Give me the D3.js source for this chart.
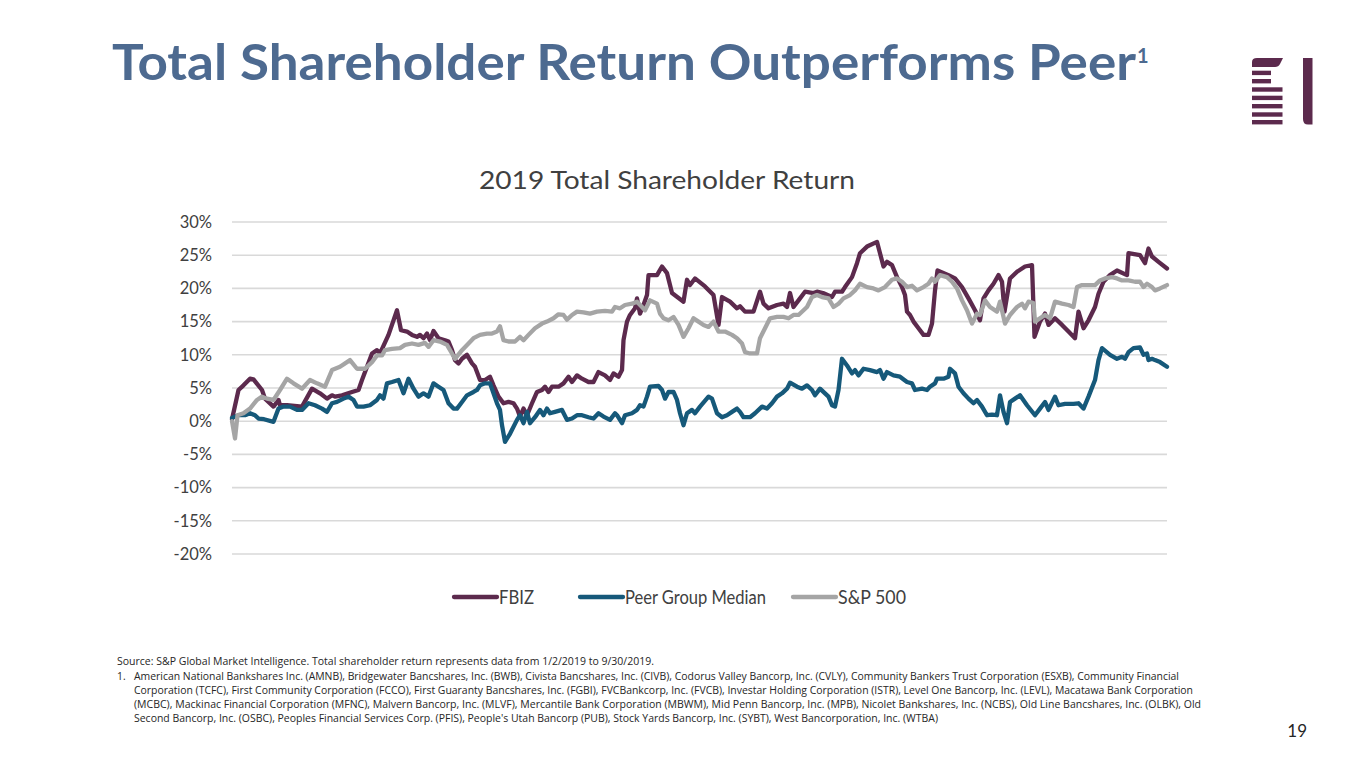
<!DOCTYPE html>
<html><head><meta charset="utf-8">
<script src="https://cdn.jsdelivr.net/npm/d3@7"></script>
<style>body{margin:0;background:#fff;} svg{display:block;}</style>
</head><body>
<svg id="c" width="1365" height="768"></svg>
<script>
// ---------- DATA ----------
const seriesNames = ["FBIZ", "Peer Group Median", "S&P 500"];
const yTicks = [-20, -15, -10, -5, 0, 5, 10, 15, 20, 25, 30];
const dayCount = 187; // trading days 1/2/2019 - 9/30/2019 (index)

// [trading-day index, total return %]
const fbiz = [
[0,0.3],[1.3,4.7],[2.3,5.4],[3.6,6.4],[4.3,6.3],[6,4.7],[6.6,3.4],[8.3,2.2],[9.3,3.2],[9.6,2.4],[11,2.4],[14,2.2],[16,4.9],[17.6,4.2],[19,3.4],[20,3.9],[20.6,3.7],[22,3.9],[24,4.4],[25.3,4.7],[26,6.2],[27,8.2],[28,10.2],[29,10.7],[29.6,10.2],[31.3,13.0],[33,16.7],[33.8,13.7],[35,13.5],[36,13.0],[37,12.7],[37.6,13.0],[38.3,12.5],[39,13.2],[39.6,12.2],[40.3,13.6],[41.3,12.5],[42.6,12.2],[43.3,12.0],[44,10.7],[44.6,9.2],[45.3,8.7],[46,9.4],[47,10.0],[48,8.7],[48.6,8.2],[49.6,6.2],[50.6,6.2],[51.6,6.7],[52.3,5.4],[53.3,3.7],[54.3,2.7],[55.3,2.9],[56.3,2.7],[57,1.9],[57.6,0.7],[58.3,1.9],[59,0.9],[60,2.7],[61,4.4],[62,4.7],[62.6,5.2],[63.3,4.4],[64,5.2],[65.3,5.2],[66.3,5.7],[67.3,6.7],[68,5.9],[69,6.9],[70,6.4],[71.3,5.9],[72.3,5.9],[73.3,7.4],[74.6,6.9],[75.6,6.2],[76.3,7.2],[77.3,6.7],[78,7.7],[78.3,12.2],[79,15.0],[79.6,16.0],[80.6,17.0],[81,18.5],[81.6,16.2],[82.3,17.5],[83,19.0],[83.3,22.0],[85,22.0],[86,23.3],[87,22.3],[88,19.3],[90.3,18.0],[91,21.3],[91.6,20.5],[92.6,21.5],[94.6,20.3],[96.3,19.0],[97.3,14.5],[98,18.7],[99.6,18.0],[101,17.0],[101.6,17.3],[102.6,16.5],[104.3,16.5],[105.6,19.5],[106.3,17.7],[107.3,17.0],[109,17.5],[110.3,17.7],[111,17.2],[111.6,19.3],[112.3,17.2],[113.3,18.2],[114.6,19.5],[116.3,19.3],[117,19.5],[118.2,19.3],[120,18.7],[120.6,19.5],[122,19.5],[122.6,20.2],[124,21.7],[125,23.8],[125.6,25.3],[127,26.3],[129,27.0],[129.6,25.3],[130.3,23.3],[131,24.0],[132,23.5],[133,21.7],[134,20.2],[134.6,19.0],[135,16.5],[135.6,16.0],[136.3,15.0],[137.3,14.0],[138.3,13.0],[139.3,13.0],[140,14.7],[140.6,19.7],[141.1,22.7],[143.3,22.0],[144.6,21.5],[146,20.2],[147.3,18.5],[148.6,16.7],[149.6,15.2],[150.3,18.5],[151.3,19.7],[152.3,20.7],[153.3,22.0],[154,21.0],[154.5,16.5],[155.6,21.5],[157,22.5],[158.6,23.3],[160,23.5],[160.5,12.7],[161.6,15.0],[162.6,16.2],[163.3,14.5],[164.6,15.5],[166,14.5],[167.3,13.5],[168.6,12.5],[169.3,16.5],[170.3,14.0],[171.3,15.2],[172.6,17.2],[173.3,19.2],[174.3,21.0],[175.6,22.0],[177,22.7],[179,22.0],[179.3,25.3],[181.6,25.0],[182.6,23.8],[183.3,26.0],[184,24.8],[185.3,24.0],[187,23.0]
];

const peer = [
[0,0.5],[1.3,0.9],[2.6,0.9],[3.6,1.2],[4.6,0.9],[5.3,0.4],[6.4,0.3],[8.3,-0.1],[9.3,1.9],[10.3,2.2],[11.6,2.2],[13,1.7],[14,1.7],[15.3,2.7],[16.6,2.4],[18,1.9],[19,1.4],[20,2.7],[21,2.9],[22.3,3.4],[23.3,3.7],[24.3,3.2],[25,2.2],[26.3,2.2],[27.6,2.4],[29,3.2],[29.6,3.9],[30.3,3.4],[31,5.7],[32,5.9],[33.3,6.2],[34.3,4.2],[35.3,6.4],[36.3,4.9],[37.3,3.7],[38.3,4.2],[39.3,3.7],[40.3,5.7],[41.3,5.2],[42.3,4.7],[43.3,2.7],[44.3,1.9],[45,1.9],[46,2.9],[47,3.9],[48.3,4.4],[49,4.7],[49.6,5.4],[50.6,5.7],[51.6,5.7],[52.3,4.2],[53,2.7],[53.6,1.7],[54,-0.6],[54.6,-3.1],[55.6,-1.9],[57,0.2],[57.6,0.9],[58.3,-0.3],[59,1.4],[59.6,-0.3],[60.6,0.6],[61.6,1.7],[62.3,0.9],[63,1.9],[63.6,1.2],[64.6,1.4],[66,1.7],[67,0.2],[68,0.4],[69,0.9],[70,0.9],[71.3,0.6],[72.3,0.4],[73.3,1.2],[74.3,0.7],[75.6,0.2],[76.6,1.2],[77,0.9],[78,-0.3],[78.6,0.9],[80,1.2],[81,1.7],[81.6,2.4],[82.3,2.2],[83,3.7],[83.6,5.2],[85.3,5.3],[86,4.7],[86.6,3.4],[87.3,4.4],[88.3,4.4],[89,3.2],[89.6,1.2],[90.3,-0.6],[91,1.2],[92,1.7],[92.6,1.2],[93.6,2.2],[95.3,3.7],[96,3.4],[97,1.2],[98,0.6],[99,0.9],[100,1.4],[101,1.9],[101.6,1.4],[102.3,0.6],[103.6,0.6],[104.6,1.2],[106,2.2],[107,1.9],[108,2.7],[109,3.7],[110,4.2],[111,4.9],[111.6,5.8],[113,5.2],[114,4.9],[115,5.4],[116,4.7],[116.6,3.9],[117.6,4.9],[118.6,4.2],[119.3,3.7],[120,2.4],[120.6,2.2],[121.3,4.7],[122,9.4],[123,8.4],[124,7.2],[124.6,7.7],[125.3,6.9],[126.3,7.9],[127.6,7.7],[129,7.4],[129.6,7.7],[130.3,6.4],[131,7.4],[132.3,6.9],[133.6,6.7],[135,5.9],[136,5.7],[136.6,4.7],[138,4.9],[139,4.7],[139.6,5.2],[140.6,5.7],[141,6.4],[142.3,6.4],[143.3,6.7],[143.6,7.9],[144.6,7.2],[145.3,5.2],[146.3,4.2],[147.3,3.4],[148.3,2.7],[149,3.2],[150,2.2],[151,0.9],[152,1.0],[153,0.9],[153.6,3.9],[154.3,1.4],[155,-0.3],[155.6,2.9],[156.6,3.4],[157.6,3.9],[159,2.4],[160.6,0.9],[161.6,1.9],[162.6,2.9],[163.3,1.7],[164.6,3.7],[165.3,2.4],[166.6,2.6],[168.3,2.6],[169.3,2.7],[170.3,1.9],[171.3,3.7],[172.6,6.2],[173.3,9.2],[174,11.0],[175.6,10.0],[177,9.4],[178,9.7],[178.6,9.4],[179.3,10.4],[180.3,11.0],[181.6,11.1],[182.3,10.0],[183,10.2],[183.3,9.2],[184,9.4],[184.6,9.2],[185.6,8.9],[187,8.2]
];

const sp500 = [
[0,0.0],[0.6,-2.6],[1.1,0.9],[2.3,1.2],[3.6,1.9],[5,3.2],[6,3.7],[7,3.4],[8.3,3.2],[9.6,4.7],[11,6.4],[12.3,5.7],[14,4.9],[15.6,6.2],[17,5.7],[18.6,5.2],[20,7.7],[21.6,8.2],[23.6,9.2],[25,7.9],[26.6,7.9],[28,8.9],[29,9.9],[30,9.9],[30.6,10.7],[32,10.9],[33.6,11.0],[34.6,11.5],[36,11.7],[37.3,11.5],[38.6,11.8],[39.3,11.2],[40.3,12.2],[41.6,12.0],[43,11.5],[44,10.2],[44.6,9.4],[46,10.7],[47.3,11.7],[48.3,12.5],[49.6,13.0],[51,13.2],[52,13.2],[53,13.5],[53.6,14.3],[54.3,12.2],[55.3,12.0],[56.6,12.0],[57.6,12.7],[58.3,12.2],[59.3,13.0],[60.6,14.0],[62,14.7],[63,15.0],[64.3,15.5],[65.3,16.1],[66.3,16.0],[67,15.3],[68,16.0],[69,16.5],[70.3,16.4],[71.6,16.2],[73,16.5],[74.6,16.6],[76,16.5],[76.6,17.2],[77.6,17.0],[78.6,17.5],[80,17.7],[81,18.0],[82,17.2],[82.6,16.7],[83.6,18.2],[85,17.7],[85.6,16.2],[86.3,15.5],[87.3,15.2],[88.3,15.7],[89.3,14.5],[90.3,12.7],[91.3,14.0],[92.3,15.5],[93.3,15.0],[94.3,14.5],[95.3,14.2],[96.3,15.0],[97.3,13.5],[98.6,13.5],[100,13.0],[101,12.5],[102,11.7],[102.6,10.4],[103.6,10.2],[105,10.2],[105.6,12.5],[106.6,14.0],[107.6,15.5],[109,15.7],[110.3,15.7],[111.3,15.5],[112.3,16.0],[113.3,16.0],[115,17.2],[116,18.7],[117,19.0],[118,18.7],[119.3,18.5],[120.3,17.2],[121.3,17.7],[122.3,18.5],[123.6,19.0],[124.6,19.7],[125.6,20.7],[127,20.2],[128.3,20.0],[129.3,19.7],[130.6,20.2],[132,21.3],[133,21.5],[134,21.0],[135,20.2],[136,20.4],[137,19.7],[138.3,20.2],[139.3,20.7],[140,21.5],[140.6,21.0],[141.6,22.0],[143,21.7],[144,21.0],[145,20.0],[146,18.2],[147,16.7],[148,14.7],[149,16.2],[149.6,16.0],[150.6,18.2],[151.6,17.2],[153,16.5],[153.6,18.0],[154.6,14.7],[155.6,16.0],[157,17.2],[158,17.7],[158.6,17.0],[159.3,18.0],[160.3,17.8],[160.6,15.0],[161.6,15.5],[162.6,16.0],[163.6,15.5],[164.6,18.0],[166,17.7],[167.3,17.5],[168.3,17.2],[169,20.2],[170,20.5],[171.3,20.5],[172.6,20.5],[173.6,21.2],[174.6,21.5],[176,21.7],[177,21.5],[178,21.2],[179.3,21.2],[180.6,21.0],[181.6,21.0],[182.3,20.2],[183,20.7],[184,20.2],[184.6,19.7],[185.6,20.0],[187,20.5]
];

const footnotes = [
  "Source: S&P Global Market Intelligence.  Total shareholder return represents data from 1/2/2019 to 9/30/2019.",
  "American National Bankshares Inc. (AMNB), Bridgewater Bancshares, Inc. (BWB), Civista Bancshares, Inc. (CIVB), Codorus Valley Bancorp, Inc. (CVLY), Community Bankers Trust Corporation (ESXB), Community Financial",
  "Corporation (TCFC), First Community Corporation (FCCO), First Guaranty Bancshares, Inc. (FGBI), FVCBankcorp, Inc. (FVCB), Investar Holding Corporation (ISTR), Level One Bancorp, Inc. (LEVL), Macatawa Bank Corporation",
  "(MCBC), Mackinac Financial Corporation (MFNC), Malvern Bancorp, Inc. (MLVF), Mercantile Bank Corporation (MBWM), Mid Penn Bancorp, Inc. (MPB), Nicolet Bankshares, Inc. (NCBS), Old Line Bancshares, Inc. (OLBK), Old",
  "Second Bancorp, Inc. (OSBC), Peoples Financial Services Corp. (PFIS), People's Utah Bancorp (PUB), Stock Yards Bancorp, Inc. (SYBT), West Bancorporation, Inc. (WTBA)"
];

// ---------- STYLE / LAYOUT ----------
const colors = ["#5C2A4D", "#16597A", "#A5A5A5"];
const FONT = "Lato, 'Open Sans', sans-serif";
const svg = d3.select("#c");

// Title
svg.append("text").attr("x", 112).attr("y", 80)
  .attr("font-family", FONT).attr("font-weight", 700).attr("font-size", 50)
  .attr("fill", "#4D6A90")
  .attr("textLength", 1024).attr("lengthAdjust", "spacingAndGlyphs")
  .text("Total Shareholder Return Outperforms Peer");
svg.append("text").attr("x", 1137).attr("y", 63)
  .attr("font-family", FONT).attr("font-weight", 700).attr("font-size", 20)
  .attr("fill", "#4D6A90").text("1");

// Logo
const logo = svg.append("g").attr("fill", "#5C2A4D");
logo.append("path").attr("d", "M1252,67 L1252,62 Q1252,58 1257,58 L1283,58 L1280,64 Q1278.5,67 1275,67 Z");
[[70.7, 19], [79, 19], [87.3, 30.5], [95.7, 30.5], [104, 30.5], [112.3, 30.5], [120, 30.5]].forEach(([y, w]) => {
  logo.append("rect").attr("x", 1252).attr("y", y).attr("width", w).attr("height", 4.4);
});
logo.append("path").attr("d", "M1303,58 L1312.5,58 L1312.5,124.5 L1308,124.5 Q1303,124.5 1303,119 Z");

// Chart title
svg.append("text").attr("x", 667).attr("y", 189).attr("text-anchor", "middle")
  .attr("font-family", FONT).attr("font-size", 25).attr("fill", "#404040")
  .attr("textLength", 376).attr("lengthAdjust", "spacingAndGlyphs")
  .text("2019 Total Shareholder Return");

// Scales
const x = d3.scaleLinear().domain([0, dayCount]).range([232, 1167]);
const y = d3.scaleLinear().domain([-20, 30]).range([554, 222]);

// Gridlines
svg.append("g").selectAll("line").data(yTicks).join("line")
  .attr("x1", x(0)).attr("x2", x(dayCount))
  .attr("y1", d => y(d)).attr("y2", d => y(d))
  .attr("stroke", "#D9D9D9").attr("stroke-width", 1.6);

// Y axis labels via d3 axis
const yAxis = d3.axisLeft(y).tickValues(yTicks).tickFormat(d => d + "%").tickSize(0).tickPadding(0);
const ga = svg.append("g").attr("transform", "translate(212,0)").call(yAxis);
ga.select(".domain").remove();
ga.selectAll("text").attr("font-family", FONT).attr("font-size", 16.5).attr("fill", "#404040");

// Lines
const line = d3.line().x(d => x(d[0])).y(d => y(d[1])).curve(d3.curveLinear);
const seriesData = [fbiz, peer, sp500];
const drawOrder = [0, 1, 2];
drawOrder.forEach(i => {
  svg.append("path").datum(seriesData[i]).attr("d", line)
    .attr("fill", "none").attr("stroke", colors[i]).attr("stroke-width", 4.3)
    .attr("stroke-linejoin", "round").attr("stroke-linecap", "round");
});

// Legend
const legendX = [452, 578, 791];
const legendTextW = [35, 141, 68];
seriesNames.forEach((name, i) => {
  const g = svg.append("g").attr("transform", `translate(${legendX[i]},597)`);
  g.append("line").attr("x1", 2).attr("x2", 45).attr("y1", 0).attr("y2", 0)
    .attr("stroke", colors[i]).attr("stroke-width", 4.3).attr("stroke-linecap", "round");
  g.append("text").attr("x", 47).attr("y", 6.5)
    .attr("font-family", FONT).attr("font-size", 18.5).attr("fill", "#404040")
    .attr("textLength", legendTextW[i]).attr("lengthAdjust", "spacingAndGlyphs")
    .text(name);
});

// Footnotes
const fnFont = "'Open Sans', Lato, sans-serif";
const fnY = [665, 680, 694, 708, 722];
const fnX = [117, 134, 134, 134, 134];
const fnW = [537, 1045, 1059, 1067, 804];
footnotes.forEach((t, i) => {
  svg.append("text").attr("x", fnX[i]).attr("y", fnY[i])
    .attr("font-family", fnFont).attr("font-size", 10.3).attr("fill", "#262626")
    .attr("textLength", fnW[i]).attr("lengthAdjust", "spacingAndGlyphs")
    .text(t);
});
svg.append("text").attr("x", 117).attr("y", fnY[1])
  .attr("font-family", fnFont).attr("font-size", 10.3).attr("fill", "#262626").text("1.");

// Page number
svg.append("text").attr("x", 1307).attr("y", 737).attr("text-anchor", "end")
  .attr("font-family", FONT).attr("font-size", 17).attr("fill", "#262626").text("19");
</script>
</body></html>
